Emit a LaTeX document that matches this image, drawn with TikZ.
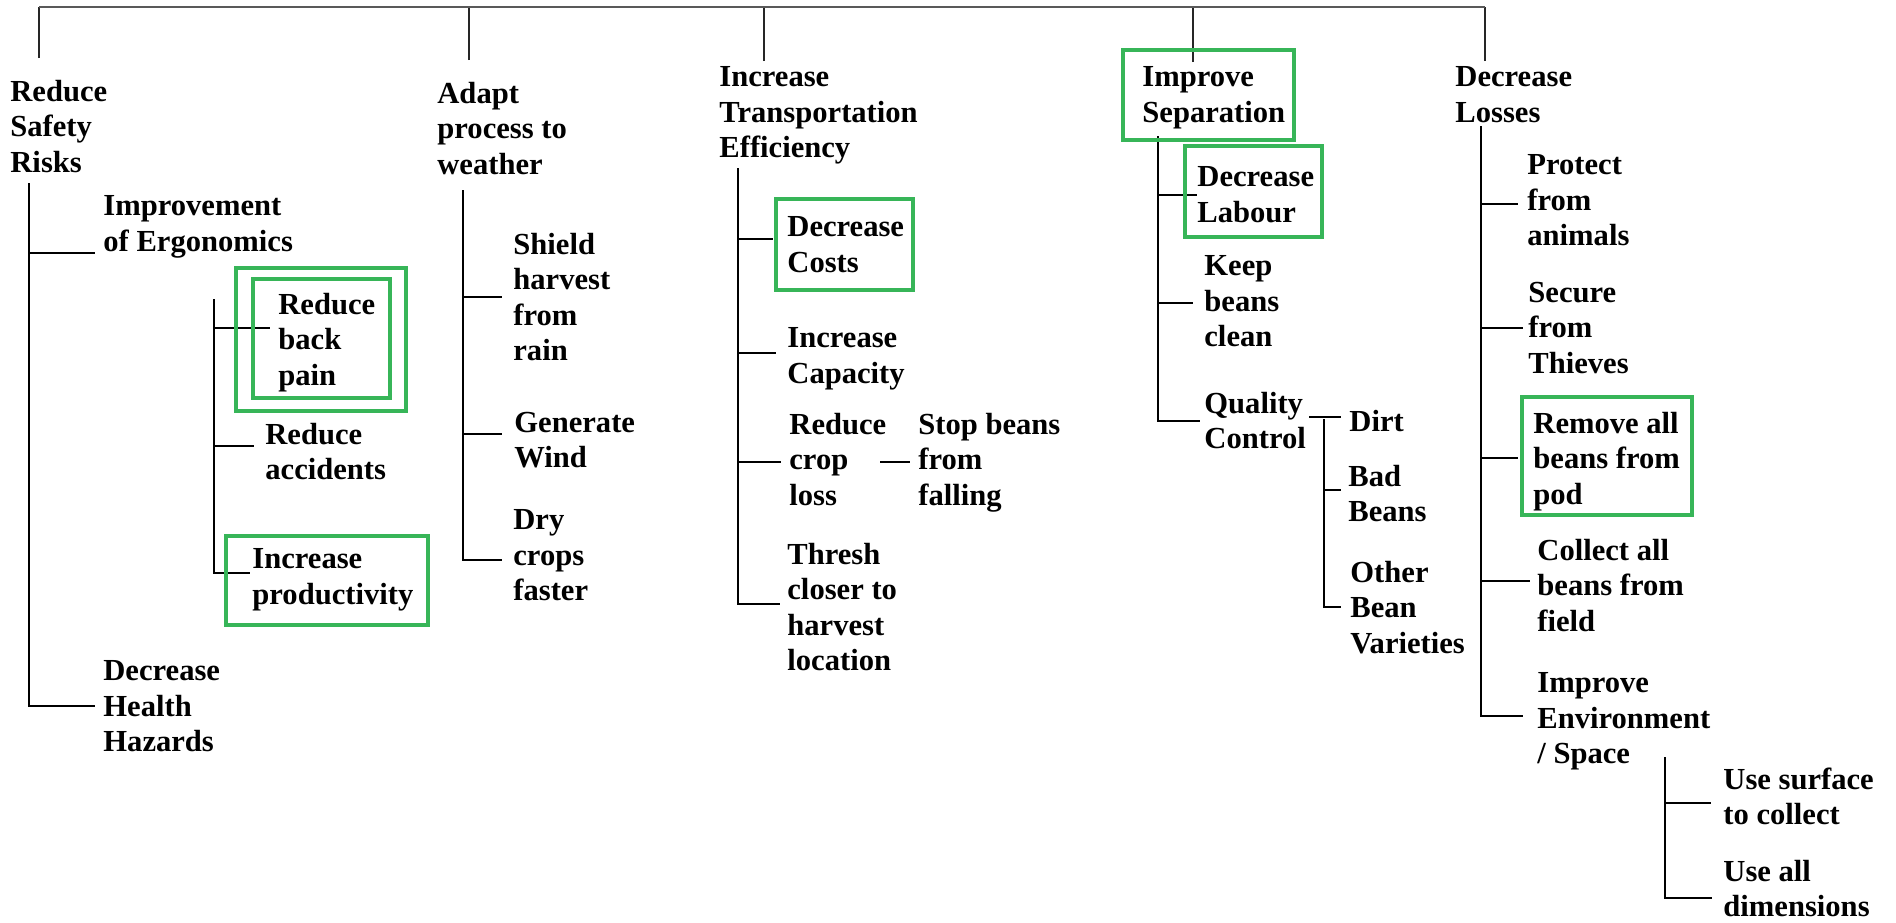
\documentclass[tikz,border=0pt]{standalone}
\usepackage{fontspec}
\setmainfont{Liberation Serif}
\usepackage{tikz}
\definecolor{boxgreen}{RGB}{55,181,88}

\begin{document}
\begin{tikzpicture}[x=0.5pt,y=-0.5pt,
  lbl/.style={font=\fontsize{15.3}{17.75}\selectfont\bfseries,inner sep=0pt,anchor=north west,yshift=10.25pt,align=left},
  link/.style={line width=0.65pt},
  drop/.style={line width=0.65pt,black!85},
  topbar/.style={line width=1pt,black!65},
  gbox/.style={draw=boxgreen,line width=2.2pt}]
  \useasboundingbox (0,0) rectangle (1896,922);
  % safety branch
  \node[lbl] (rsr) at (10,100) {Reduce\\Safety\\Risks};
  \node[lbl] (ergo) at (103,216) {Improvement\\of Ergonomics};
  \node[lbl] (back) at (278,313) {Reduce\\back\\pain};
  \node[lbl] (acc) at (265,443) {Reduce\\accidents};
  \node[lbl] (prod) at (252,569) {Increase\\productivity};
  \node[lbl] (hlth) at (103,681) {Decrease\\Health\\Hazards};
  % weather branch
  \node[lbl] (adapt) at (437,102) {Adapt\\process to\\weather};
  \node[lbl] (shield) at (513,253) {Shield\\harvest\\from\\rain};
  \node[lbl] (wind) at (514,432) {Generate\\Wind};
  \node[lbl] (dry) at (513,530) {Dry\\crops\\faster};
  % transport branch
  \node[lbl] (trans) at (719,87) {Increase\\Transportation\\Efficiency};
  \node[lbl] (costs) at (787,237) {Decrease\\Costs};
  \node[lbl] (cap) at (787,348) {Increase\\Capacity};
  \node[lbl] (loss) at (789,433) {Reduce\\crop\\loss};
  \node[lbl] (stop) at (918,433) {Stop beans\\from\\falling};
  \node[lbl] (thresh) at (787,563) {Thresh\\closer to\\harvest\\location};
  % separation branch
  \node[lbl] (sep) at (1142,87) {Improve\\Separation};
  \node[lbl] (labour) at (1197,187) {Decrease\\Labour};
  \node[lbl] (clean) at (1204,276) {Keep\\beans\\clean};
  \node[lbl] (qc) at (1204,412) {Quality\\Control};
  \node[lbl] (dirt) at (1349,430) {Dirt};
  \node[lbl] (bad) at (1348,485) {Bad\\Beans};
  \node[lbl] (other) at (1350,581) {Other\\Bean\\Varieties};
  % losses branch
  \node[lbl] (losses) at (1455,87) {Decrease\\Losses};
  \node[lbl] (animals) at (1527,175) {Protect\\from\\animals};
  \node[lbl] (thieves) at (1528,302) {Secure\\from\\Thieves};
  \node[lbl] (pod) at (1533,432) {Remove all\\beans from\\pod};
  \node[lbl] (field) at (1537,559) {Collect all\\beans from\\field};
  \node[lbl] (env) at (1537,693) {Improve\\Environment\\/ Space};
  \node[lbl] (surf) at (1723,788) {Use surface\\to collect};
  \node[lbl] (dims) at (1723,880) {Use all\\dimensions};

  % top bar and drops
  \coordinate (bar) at (0,7.3);
  \foreach \n/\dx/\dy in {rsr/29/-42,adapt/32/-42,trans/45/-26,sep/51/-25,losses/30/-26}
    \draw[drop] ([shift={(\dx,\dy+20.5)}]\n.north west) coordinate (\n-d) -- (\n-d |- bar);
  \draw[topbar] (rsr-d |- bar) -- (losses-d |- bar);

  % trunks
  \coordinate (rsr-t) at (29,183);
  \coordinate (ergo-t) at (214,299);
  \coordinate (adapt-t) at (463,190);
  \coordinate (trans-t) at (738,168);
  \coordinate (sep-t) at (1158,136);
  \coordinate (qc-t) at (1324,419);
  \coordinate (losses-t) at (1481,126);
  \coordinate (env-t) at (1665,757);
  \foreach \p/\c/\dx/\dy in {rsr/ergo/-8.5/37,rsr/hlth/-8.5/25,
    ergo/back/-8.5/15,ergo/acc/-11/3,ergo/prod/-2/4,
    adapt/shield/-11/44,adapt/wind/-12/2,adapt/dry/-11/30,
    trans/costs/-14/2,trans/cap/-11.5/5,trans/loss/-8/29,trans/thresh/-7/41,
    sep/labour/0/8,sep/clean/-11/27,sep/qc/-4/9,
    qc/bad/-7/5,qc/other/-9/26,
    losses/animals/-9/29,losses/thieves/-5/26,losses/pod/-15.5/26,losses/field/-7/22,losses/env/-14/23,
    env/surf/-12.5/15,env/dims/-11.5/18}
    \draw[link] (\p-t) |- ([shift={(\dx,\dy+20.5)}]\c.north west);
  % side branches
  \draw[link] ([shift={(-40,7.5)}]dirt.north west) -- ([shift={(-8,7.5)}]dirt.north west);
  \draw[link] ([shift={(-38,49.5)}]stop.north west) -- ([shift={(-8,49.5)}]stop.north west);

  % highlighted goals
  \draw[gbox] (236,268) rectangle (406,411);
  \draw[gbox] (253,279) rectangle (390,398);
  \draw[gbox] (226,536) rectangle (428,625);
  \draw[gbox] (776,199) rectangle (913,290);
  \draw[gbox] (1123,50) rectangle (1294,140);
  \draw[gbox] (1185,146) rectangle (1322,237);
  \draw[gbox] (1522,397) rectangle (1692,515);
\end{tikzpicture}
\end{document}
